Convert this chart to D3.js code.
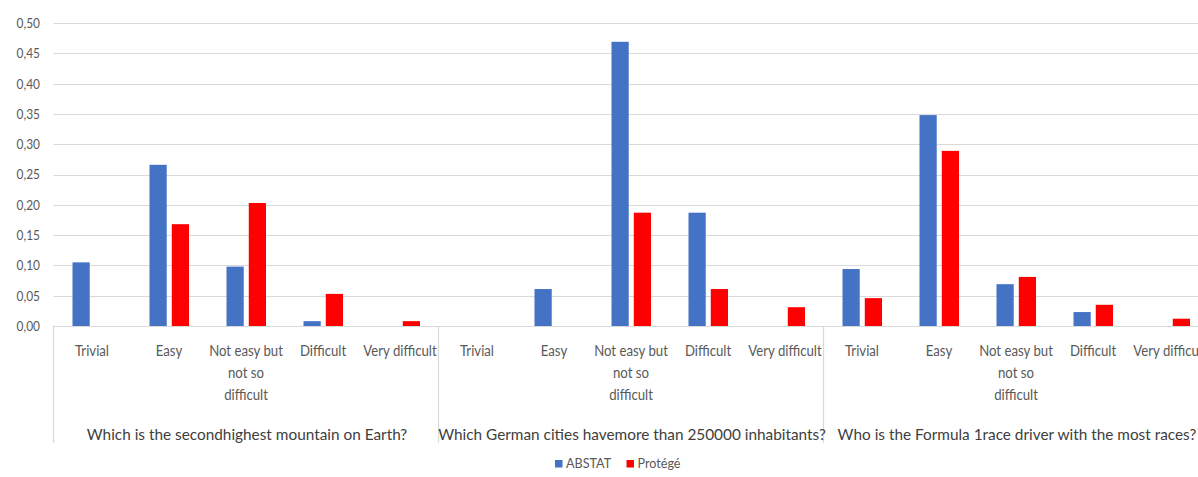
<!DOCTYPE html>
<html>
<head>
<meta charset="utf-8">
<script src="https://cdn.jsdelivr.net/npm/d3@7"></script>
<style>
  body { margin: 0; background: #fff; }
  svg { display: block; font-family: Lato, sans-serif; }
</style>
</head>
<body>
<svg id="chart" width="1198" height="477"></svg>
<script>
'use strict';

// questions (outer axis level)
const questions = [
  "Which is the secondhighest mountain on Earth?",
  "Which German cities havemore than 250000 inhabitants?",
  "Who is the Formula 1race driver with the most races?"
];
// difficulty levels (inner axis level), already wrapped like the original
const levels = ["Trivial", "Easy", "Not easy but not so difficult", "Difficult", "Very difficult"];
const levelLines = [["Trivial"], ["Easy"], ["Not easy but", "not so", "difficult"], ["Difficult"], ["Very difficult"]];
const seriesNames = ["ABSTAT", "Protégé"];

// one row per question, one value per level
const abstat = [
  [0.105, 0.266, 0.098, 0.008, 0],
  [0, 0.061, 0.469, 0.187, 0],
  [0.094, 0.348, 0.069, 0.023, 0]
];
const protege = [
  [0, 0.168, 0.203, 0.053, 0.008],
  [0, 0, 0.187, 0.061, 0.031],
  [0.046, 0.289, 0.081, 0.035, 0.012]
];
const yTicks = [0, 0.05, 0.10, 0.15, 0.20, 0.25, 0.30, 0.35, 0.40, 0.45, 0.50];

const colors = { "ABSTAT": "#4472C4", "Protégé": "#FF0000" };

const svg = d3.select("#chart");
const width = 1198;
const left = 53.5;
const groupW = 385;
// Calibri is narrower than Lato, squeeze text horizontally
const narrow = 0.88;

const y = d3.scaleLinear().domain([0, 0.5]).range([326, 23]);
const x0 = d3.scaleBand().domain(questions).range([left, left + groupW * questions.length]);
const x1 = d3.scaleBand().domain(levels).range([0, groupW]);
const x2 = d3.scaleBand().domain(seriesNames).range([19, 58.5]).paddingInner(0.227);

// gridlines
svg.append("g")
  .selectAll("line")
  .data(yTicks.slice(1))
  .join("line")
    .attr("x1", left)
    .attr("x2", width)
    .attr("y1", (d) => Math.round(y(d)) + 0.5)
    .attr("y2", (d) => Math.round(y(d)) + 0.5)
    .attr("stroke", "#d9d9d9")
    .attr("stroke-width", 1.2);

// y labels
const fmt = (d) => d3.format(".2f")(d).replace(".", ",");
svg.append("g")
  .selectAll("text")
  .data(yTicks)
  .join("text")
    .attr("transform", (d) => `translate(40,${y(d)}) scale(0.85,1)`)
    .attr("dy", "0.35em")
    .attr("text-anchor", "end")
    .attr("fill", "#595959")
    .style("font-size", "14px")
    .text(fmt);

// bars
const rows = [];
questions.forEach((q, qi) => {
  levels.forEach((l, li) => {
    rows.push({ q, l, s: "ABSTAT", v: abstat[qi][li] });
    rows.push({ q, l, s: "Protégé", v: protege[qi][li] });
  });
});

svg.append("g")
  .selectAll("rect")
  .data(rows.filter((d) => d.v > 0))
  .join("rect")
    .attr("x", (d) => x0(d.q) + x1(d.l) + x2(d.s))
    .attr("y", (d) => y(d.v))
    .attr("width", x2.bandwidth())
    .attr("height", (d) => y(0) - y(d.v))
    .attr("fill", (d) => colors[d.s]);

// category axis line
svg.append("line")
  .attr("x1", left).attr("x2", width)
  .attr("y1", y(0) + 0.5).attr("y2", y(0) + 0.5)
  .attr("stroke", "#d9d9d9")
  .attr("stroke-width", 1.2);

// group separators
svg.append("g")
  .selectAll("line")
  .data(questions)
  .join("line")
    .attr("x1", (d) => x0(d))
    .attr("x2", (d) => x0(d))
    .attr("y1", y(0))
    .attr("y2", 443)
    .attr("stroke", "#d9d9d9")
    .attr("stroke-width", 1.2);

// level labels
const lvl = svg.append("g")
  .selectAll("g")
  .data(questions.flatMap((q) => levels.map((l, i) => ({ q, l, lines: levelLines[i] }))))
  .join("g")
    .attr("transform", (d) => `translate(${x0(d.q) + x1(d.l) + x1.bandwidth() / 2},0) scale(${narrow},1)`);

lvl.selectAll("text")
  .data((d) => d.lines)
  .join("text")
    .attr("y", (d, i) => 356 + i * 22)
    .attr("text-anchor", "middle")
    .attr("fill", "#595959")
    .style("font-size", "15px")
    .text((d) => d);

// question labels
svg.append("g")
  .selectAll("text")
  .data(questions)
  .join("text")
    .attr("transform", (d) => `translate(${x0(d) + groupW / 2 + 1},440) scale(0.96,1)`)
    .attr("text-anchor", "middle")
    .attr("fill", "#404040")
    .style("font-size", "16px")
    .text((d) => d);

// legend
const legend = svg.append("g")
  .selectAll("g")
  .data(seriesNames)
  .join("g")
    .attr("transform", (d, i) => `translate(${i === 0 ? 555 : 626.5},0)`);

legend.append("rect")
  .attr("y", 460)
  .attr("width", 7.5)
  .attr("height", 7.5)
  .attr("fill", (d) => colors[d]);

legend.append("text")
  .attr("transform", "translate(11,467.5) scale(0.9,1)")
  .attr("fill", "#595959")
  .style("font-size", "14px")
  .text((d) => d);
</script>
</body>
</html>
